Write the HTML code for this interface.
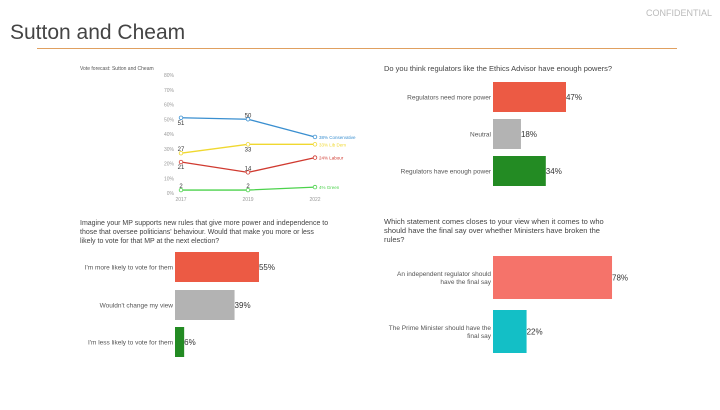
<!DOCTYPE html>
<html><head><meta charset="utf-8"><style>
body{margin:0;width:720px;height:405px;background:#fff;font-family:"Liberation Sans",sans-serif;overflow:hidden}
svg text{font-family:"Liberation Sans",sans-serif}
</style></head><body>
<svg id="s" width="720" height="405" xmlns="http://www.w3.org/2000/svg">
<text x="712" y="16" font-size="9" fill="#bbb" text-anchor="end">CONFIDENTIAL</text>
<text x="10" y="39" font-size="21" fill="#444">Sutton and Cheam</text>
<line x1="37" y1="48.5" x2="677" y2="48.5" stroke="#e0a060" stroke-width="1"/>
<text x="80" y="70" font-size="5" fill="#555">Vote forecast: Sutton and Cheam</text>
<g id="lc"></g>
<text x="384" y="71" font-size="7.5" fill="#444">Do you think regulators like the Ethics Advisor have enough powers?</text>
<g id="b1"></g>
<text font-size="7" fill="#444"><tspan x="80" y="225">Imagine your MP supports new rules that give more power and independence to</tspan><tspan x="80" y="234">those that oversee politicians' behaviour. Would that make you more or less</tspan><tspan x="80" y="243">likely to vote for that MP at the next election?</tspan></text>
<g id="b2"></g>
<text font-size="7.5" fill="#444"><tspan x="384" y="224">Which statement comes closes to your view when it comes to who</tspan><tspan x="384" y="233">should have the final say over whether Ministers have broken the</tspan><tspan x="384" y="242">rules?</tspan></text>
<g id="b3"></g>
</svg>
<script>
const NS="http://www.w3.org/2000/svg";
const years=["2017","2019","2022"];
const yTicks=[0,10,20,30,40,50,60,70,80];
const con=[51,50,38];
const libdem=[27,33,33];
const labour=[21,14,24];
const green=[2,2,4];
const seriesNames=["Conservative","Lib Dem","Labour","Green"];
const seriesColors=["#3a8fd0","#f0d830","#d03a30","#4cd24c"];
const q1Labels=["Regulators need more power","Neutral","Regulators have enough power"];
const q1Values=[47,18,34];
const q2Labels=["I'm more likely to vote for them","Wouldn't change my view","I'm less likely to vote for them"];
const q2Values=[55,39,6];
const q3Labels=[["An independent regulator should","have the final say"],["The Prime Minister should have the","final say"]];
const q3Values=[78,22];

function mk(p,tag,a,txt){const e=document.createElementNS(NS,tag);for(const k in a)e.setAttribute(k,a[k]);if(txt!=null)e.textContent=txt;p.appendChild(e);return e;}
const lc=document.getElementById('lc');
const xS=i=>181+i*67, yS=v=>193-v*1.475;
yTicks.forEach(t=>{const e=mk(lc,'text',{x:174,y:yS(t)+2,'font-size':5,fill:'#999','text-anchor':'end'},t+'%');

});
years.forEach((y,i)=>{const e=mk(lc,'text',{x:xS(i),y:201,'font-size':5,fill:'#999','text-anchor':'middle'},y);

});
[con,libdem,labour,green].forEach((s,si)=>{
 const c=seriesColors[si];
 const l=mk(lc,'polyline',{points:s.map((v,i)=>xS(i)+','+yS(v)).join(' '),fill:'none',stroke:c,'stroke-width':1.3});
 
 
 s.forEach((v,i)=>{const p=mk(lc,'circle',{cx:xS(i),cy:yS(v),r:1.8,fill:'#fff',stroke:c,'stroke-width':0.8});
 
 
 if(i<2){const below=(si==0&&i==0)||(si==1&&i==1)||(si==2&&i==0);
 const t=mk(lc,'text',{x:xS(i),y:yS(v)+(below?7:-2),'font-size':6,fill:'#333','text-anchor':'middle'},v);
 
 }});
 const lt=mk(lc,'text',{x:xS(2)+4,y:yS(s[2])+2,'font-size':4.5,fill:c},s[2]+'% '+seriesNames[si]);
 
 
});
function bars(g,labels,vals,x0,scale,ys,h,colors,fs){
 vals.forEach((v,i)=>{
  const r=mk(g,'rect',{x:x0,y:ys[i],width:v*scale,height:h,fill:colors[i]});
  
  
  const t=mk(g,'text',{x:x0+v*scale,y:ys[i]+h/2+3,'font-size':8,fill:'#333'},v+'%');
  
  
  const lab=Array.isArray(labels[i])?labels[i]:[labels[i]];
  const lt=mk(g,'text',{'font-size':fs,fill:'#555','text-anchor':'end'});
  
  
  lab.forEach((s,k)=>mk(lt,'tspan',{x:x0-2,y:ys[i]+h/2+2.5+(k-(lab.length-1)/2)*8},s));
 });
}
bars(document.getElementById('b1'),q1Labels,q1Values,493,1.553,[82,119,156],30,["#ec5a44","#b3b3b3","#238b23"],6.5);
bars(document.getElementById('b2'),q2Labels,q2Values,175,1.527,[252,290,327],30,["#ec5a44","#b3b3b3","#238b23"],6.5);
bars(document.getElementById('b3'),q3Labels,q3Values,493,1.526,[256,310],43,["#f5736a","#13bfc6"],6.5);
</script>
</body></html>
